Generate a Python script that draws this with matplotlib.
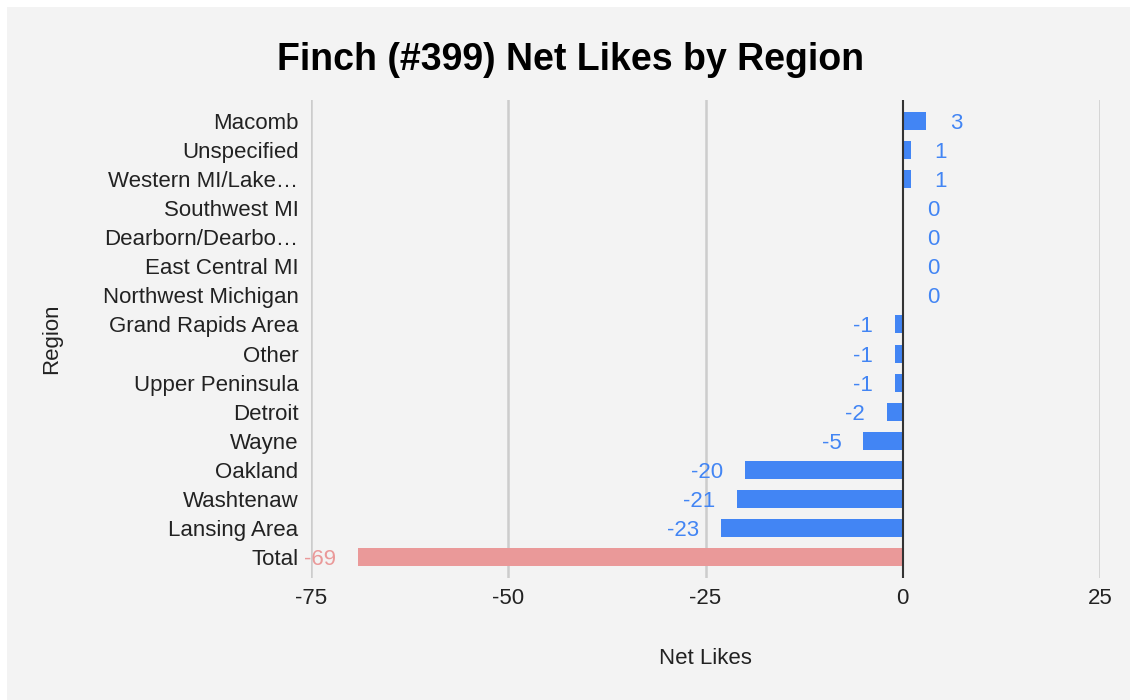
import matplotlib.pyplot as plt
import matplotlib.patches as mpatches

plt.rcParams['font.family'] = ['Liberation Sans', 'DejaVu Sans']

regions = ['Macomb', 'Unspecified', 'Western MI/Lake\u2026', 'Southwest MI',
           'Dearborn/Dearbo\u2026', 'East Central MI', 'Northwest Michigan',
           'Grand Rapids Area', 'Other', 'Upper Peninsula', 'Detroit', 'Wayne',
           'Oakland', 'Washtenaw', 'Lansing Area', 'Total']
net_likes = [3, 1, 1, 0, 0, 0, 0, -1, -1, -1, -2, -5, -20, -21, -23, -69]
x_ticks = [-75, -50, -25, 0, 25]

blue = '#4285f4'
pink = '#ea9999'
bg = '#f3f3f3'

fig = plt.figure(figsize=(11.3, 7), dpi=100, facecolor='white')
# grey chart card, with a thin white strip on top and left
fig.patches.append(mpatches.Rectangle((7 / 1130, 0), 1, 693 / 700,
                                      transform=fig.transFigure,
                                      facecolor=bg, edgecolor='none', zorder=-10))

ax = fig.add_axes([311 / 1130, 1 - 578 / 700, 789 / 1130, 478 / 700])
ax.set_facecolor(bg)

colors = [pink if r == 'Total' else blue for r in regions]
ypos = list(range(len(regions)))
ax.barh(ypos, net_likes, height=0.62, color=colors, zorder=3)

# value labels
for y, v, c in zip(ypos, net_likes, colors):
    if v >= 0:
        ax.annotate(str(v), (v, y), xytext=(24, 0), textcoords='offset pixels',
                    ha='left', va='center_baseline', color=c, fontsize=16, zorder=4)
    else:
        ax.annotate(str(v), (v, y), xytext=(-22, 0), textcoords='offset pixels',
                    ha='right', va='center_baseline', color=c, fontsize=16, zorder=4)

ax.set_xlim(-75, 25)
ax.set_ylim(len(regions) - 1 + 0.72, -0.72)
ax.set_xticks(x_ticks)
ax.set_xticklabels([str(t) for t in x_ticks])
ax.set_yticks(ypos)
ax.set_yticklabels(regions)
ax.tick_params(axis='both', length=0, labelsize=16, colors='#222222')
ax.tick_params(axis='y', pad=9)
ax.tick_params(axis='x', pad=7)

for t in x_ticks:
    if t == 0:
        ax.axvline(t, color='#333333', lw=1.5, zorder=5)
    else:
        ax.axvline(t, color='#cccccc', lw=1.8, zorder=1)

for s in ax.spines.values():
    s.set_visible(False)

ax.set_xlabel('Net Likes', fontsize=16, color='#222222')
ax.xaxis.set_label_coords(0.5, -(648 - 578) / 478)
ax.set_ylabel('Region', fontsize=16, color='#222222')
ax.yaxis.set_label_coords(-(311 - 62) / 789, 0.5)

fig.text(571 / 1130, 1 - 60 / 700, 'Finch (#399) Net Likes by Region',
         ha='center', va='center', fontsize=27, fontweight='bold', color='black')

fig.savefig('out.png', dpi=100, facecolor=fig.get_facecolor())
